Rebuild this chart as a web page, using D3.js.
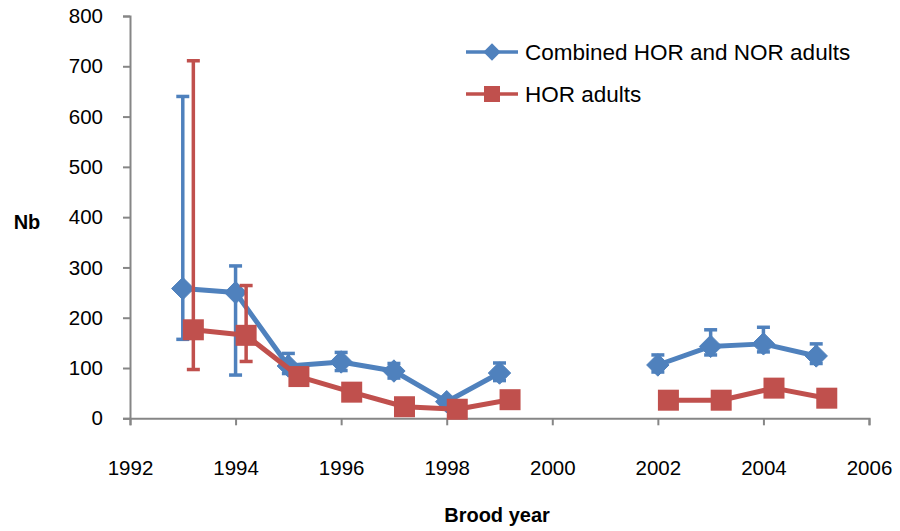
<!DOCTYPE html>
<html>
<head>
<meta charset="utf-8">
<script src="https://cdn.jsdelivr.net/npm/d3@7/dist/d3.min.js"></script>
<style>
  html, body { margin: 0; padding: 0; background: #fff; }
  svg { display: block; }
  text { font-family: "Liberation Sans", Arial, sans-serif; fill: #000; }
</style>
</head>
<body>
<svg id="chart" width="900" height="531"></svg>
<script>
// Brood years (2000 and 2001 have no estimate)
const years = [1993, 1994, 1995, 1996, 1997, 1998, 1999, 2000, 2001, 2002, 2003, 2004, 2005];

// Effective number of breeders, combined hatchery + natural origin adults
const combined     = [258, 250, 104, 112, 94, 33, 90, null, null, 106, 143, 148, 124];
const combinedLow  = [157,  86,  89,  95, 80, 25, 75, null, null,  92, 126, 132, 109];
const combinedHigh = [640, 303, 129, 131, 109, 41, 110, null, null, 126, 176, 181, 148];

// Effective number of breeders, hatchery origin adults only
const hor     = [176, 165, 83, 52, 23, 18, 37, null, null, 36, 36, 60, 40];
const horLow  = [ 97, 113, null, null, null, null, null, null, null, null, null, null, null];
const horHigh = [711, 264, null, null, null, null, null, null, null, null, null, null, null];

const xTicks = [1992, 1994, 1996, 1998, 2000, 2002, 2004, 2006];
const yTicks = [0, 100, 200, 300, 400, 500, 600, 700, 800];

const seriesNames = ["Combined HOR and NOR adults", "HOR adults"];
const BLUE = "#4f81bd", RED = "#c0504d", AXIS = "#868686";
const HOR_SHIFT = 0.2; // HOR points sit slightly right of the year so bars don't overlap

const svg = d3.select("#chart");
const x = d3.scaleLinear().domain([1992, 2006]).range([130, 869]);
const y = d3.scaleLinear().domain([0, 800]).range([418.3, 16]);

// Axes
const yAxis = svg.append("g").attr("transform", `translate(${x(1992)},0)`)
  .call(d3.axisLeft(y).tickValues(yTicks).tickSize(7).tickPadding(20).tickFormat(d3.format("d")));
const xAxis = svg.append("g").attr("transform", `translate(0,${y(0)})`)
  .call(d3.axisBottom(x).tickValues(xTicks).tickSize(7).tickPadding(46).tickFormat(d3.format("d")));
[yAxis, xAxis].forEach(g => {
  g.select(".domain").attr("stroke", AXIS).attr("stroke-width", 2);
  g.selectAll(".tick line").attr("stroke", AXIS).attr("stroke-width", 2);
  g.selectAll(".tick text").attr("font-size", 20.5).attr("fill", "#000")
    .style("font-family", "'Liberation Sans', Arial, sans-serif");
});
xAxis.selectAll(".tick text").attr("dy", "0.2em");

// Axis titles
svg.append("text").attr("x", 27).attr("y", 229).attr("text-anchor", "middle")
  .attr("font-size", 20).attr("font-weight", "bold").text("Nb");
svg.append("text").attr("x", 497).attr("y", 522).attr("text-anchor", "middle")
  .attr("font-size", 20).attr("font-weight", "bold").text("Brood year");

const rows = (vals, lo, hi, shift) => years.map((yr, i) => ({
  x: yr + shift, v: vals[i], lo: lo[i], hi: hi[i]
}));
const blueRows = rows(combined, combinedLow, combinedHigh, 0);
const redRows = rows(hor, horLow, horHigh, HOR_SHIFT);

const line = d3.line().defined(d => d.v != null).x(d => x(d.x)).y(d => y(d.v));

function errorBars(data, color) {
  const g = svg.append("g").attr("stroke", color).attr("stroke-width", 3.5);
  const withBars = data.filter(d => d.v != null && d.lo != null);
  g.selectAll("line.v").data(withBars).join("line")
    .attr("x1", d => x(d.x)).attr("x2", d => x(d.x))
    .attr("y1", d => y(d.lo)).attr("y2", d => y(d.hi));
  ["lo", "hi"].forEach(k => {
    g.selectAll("line." + k).data(withBars).join("line").attr("class", k)
      .attr("x1", d => x(d.x) - 6.5).attr("x2", d => x(d.x) + 6.5)
      .attr("y1", d => y(d[k])).attr("y2", d => y(d[k]));
  });
}

const diamond = d3.symbol().type(d3.symbolDiamond2).size(320);

// Combined series
errorBars(blueRows, BLUE);
svg.append("path").datum(blueRows).attr("d", line)
  .attr("fill", "none").attr("stroke", BLUE).attr("stroke-width", 5).attr("stroke-linejoin", "round");
svg.append("g").selectAll("path").data(blueRows.filter(d => d.v != null)).join("path")
  .attr("transform", d => `translate(${x(d.x)},${y(d.v)})`)
  .attr("d", diamond).attr("fill", BLUE).attr("stroke", BLUE).attr("stroke-width", 1);

// HOR series
errorBars(redRows, RED);
svg.append("path").datum(redRows).attr("d", line)
  .attr("fill", "none").attr("stroke", RED).attr("stroke-width", 5).attr("stroke-linejoin", "round");
svg.append("g").selectAll("rect").data(redRows.filter(d => d.v != null)).join("rect")
  .attr("x", d => x(d.x) - 10.5).attr("y", d => y(d.v) - 10.5)
  .attr("width", 21).attr("height", 21).attr("fill", RED);

// Legend
const legend = svg.append("g");
const legendRows = [
  { name: seriesNames[0], color: BLUE, kind: "diamond", yy: 52 },
  { name: seriesNames[1], color: RED, kind: "square", yy: 94 }
];
legendRows.forEach(r => {
  legend.append("line").attr("x1", 466).attr("x2", 518).attr("y1", r.yy).attr("y2", r.yy)
    .attr("stroke", r.color).attr("stroke-width", 3.5);
  if (r.kind === "diamond") {
    legend.append("path").attr("transform", `translate(492,${r.yy})`)
      .attr("d", d3.symbol().type(d3.symbolDiamond2).size(190)).attr("fill", r.color);
  } else {
    legend.append("rect").attr("x", 484).attr("y", r.yy - 8).attr("width", 16).attr("height", 16)
      .attr("fill", r.color);
  }
  legend.append("text").attr("x", 525).attr("y", r.yy + 8).attr("font-size", 22.5).text(r.name);
});
</script>
</body>
</html>
